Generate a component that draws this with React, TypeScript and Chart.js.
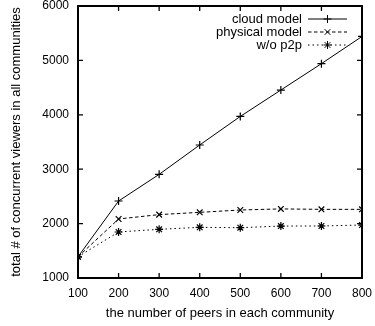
import React, { useEffect, useRef } from "react";
import { Chart, registerables } from "chart.js";
import { drawPoint } from "chart.js/helpers";

Chart.register(...registerables);

const peers = [100, 200, 300, 400, 500, 600, 700, 800];
const cloudModel = [1390, 2415, 2905, 3445, 3970, 4455, 4940, 5440];
const physicalModel = [1390, 2085, 2165, 2207, 2250, 2270, 2262, 2262];
const withoutP2p = [1390, 1846, 1895, 1931, 1925, 1955, 1956, 1974];

const seriesNames = ["cloud model", "physical model", "w/o p2p"];
const yTicks = [1000, 2000, 3000, 4000, 5000, 6000];

const FONT = "'Liberation Sans', Arial, Helvetica, sans-serif";

const framePlugin = {
  id: "frameTicksLegend",
  afterDraw(chart: any) {
    const { ctx, chartArea } = chart;
    const { left, right, top, bottom } = chartArea;
    const xs = chart.scales.x;
    const ys = chart.scales.y;
    ctx.save();
    ctx.strokeStyle = "#000";
    ctx.lineWidth = 2;
    ctx.setLineDash([]);
    ctx.strokeRect(left, top, right - left, bottom - top);
    ctx.lineWidth = 1.3;
    const tl = 5;
    ctx.beginPath();
    for (const v of peers) {
      const px = xs.getPixelForValue(v);
      ctx.moveTo(px, bottom);
      ctx.lineTo(px, bottom - tl);
      ctx.moveTo(px, top);
      ctx.lineTo(px, top + tl);
    }
    for (const v of yTicks) {
      const py = ys.getPixelForValue(v);
      ctx.moveTo(left, py);
      ctx.lineTo(left + tl, py);
      ctx.moveTo(right, py);
      ctx.lineTo(right - tl, py);
    }
    ctx.stroke();

    // legend
    const dsets = chart.data.datasets;
    ctx.font = `13px ${FONT}`;
    ctx.fillStyle = "#000";
    ctx.textAlign = "right";
    ctx.textBaseline = "middle";
    const textRight = right - 60;
    const lineStart = right - 54;
    const lineEnd = right - 15;
    for (let i = 0; i < dsets.length; i++) {
      const ds = dsets[i];
      const y = top + 13 + i * 13;
      ctx.fillText(seriesNames[i], textRight, y);
      ctx.strokeStyle = "#000";
      ctx.lineWidth = 1;
      ctx.setLineDash(ds.borderDash || []);
      ctx.beginPath();
      ctx.moveTo(lineStart, y);
      ctx.lineTo(lineEnd, y);
      ctx.stroke();
      ctx.setLineDash([]);
      drawPoint(ctx, { pointStyle: ds.pointStyle, rotation: 0, radius: ds.pointRadius, borderWidth: ds.pointBorderWidth }, (lineStart + lineEnd) / 2, y);
    }
    ctx.restore();
  },
};

export default function App() {
  const ref = useRef<HTMLCanvasElement>(null);
  useEffect(() => {
    document.body.style.margin = "0";
    const canvas = ref.current!;
    const common = {
      borderColor: "#000",
      backgroundColor: "#000",
      pointBorderColor: "#000",
      borderWidth: 1,
      pointRadius: 4,
      pointBorderWidth: 1.2,
      fill: false,
      tension: 0,
    };
    const chart = new Chart(canvas, {
      type: "line",
      data: {
        labels: peers,
        datasets: [
          { ...common, label: seriesNames[0], data: peers.map((x, i) => ({ x, y: cloudModel[i] })), pointStyle: "cross", borderDash: [] },
          { ...common, label: seriesNames[1], data: peers.map((x, i) => ({ x, y: physicalModel[i] })), pointStyle: "crossRot", borderDash: [3.5, 2.5] },
          { ...common, label: seriesNames[2], data: peers.map((x, i) => ({ x, y: withoutP2p[i] })), pointStyle: "star", borderDash: [1.5, 3] },
        ],
      },
      options: {
        animation: false,
        responsive: false,
        maintainAspectRatio: false,
        layout: { padding: { left: 0, right: 13, top: 6, bottom: 0 } },
        plugins: { legend: { display: false }, tooltip: { enabled: false } },
        scales: {
          x: {
            type: "linear",
            min: 100,
            max: 800,
            afterFit: (s: any) => { s.height = 48; s.paddingLeft = 0; s.paddingRight = 0; },
            afterBuildTicks: (s: any) => { s.ticks = peers.map((v) => ({ value: v })); },
            grid: { display: false, drawTicks: false },
            border: { display: false },
            ticks: { color: "#000", font: { family: FONT, size: 12 }, padding: 8, maxRotation: 0, autoSkip: false, callback: (v: any) => String(v) },
            title: { display: true, text: "the number of peers in each community", color: "#000", font: { family: FONT, size: 13 }, padding: { top: 5, bottom: 5 } },
          },
          y: {
            type: "linear",
            min: 1000,
            max: 6000,
            afterFit: (s: any) => { s.width = 78; s.paddingTop = 0; s.paddingBottom = 0; },
            afterBuildTicks: (s: any) => { s.ticks = yTicks.map((v) => ({ value: v })); },
            grid: { display: false, drawTicks: false },
            border: { display: false },
            ticks: { color: "#000", font: { family: FONT, size: 12 }, padding: 9, callback: (v: any) => String(v) },
            title: { display: true, text: "total # of concurrent viewers in all communities", color: "#000", font: { family: FONT, size: 13 }, padding: { top: 9, bottom: 9 } },
          },
        },
      },
      plugins: [framePlugin],
    } as any);
    return () => chart.destroy();
  }, []);
  return <canvas ref={ref} width={375} height={326} style={{ display: "block" }} />;
}
